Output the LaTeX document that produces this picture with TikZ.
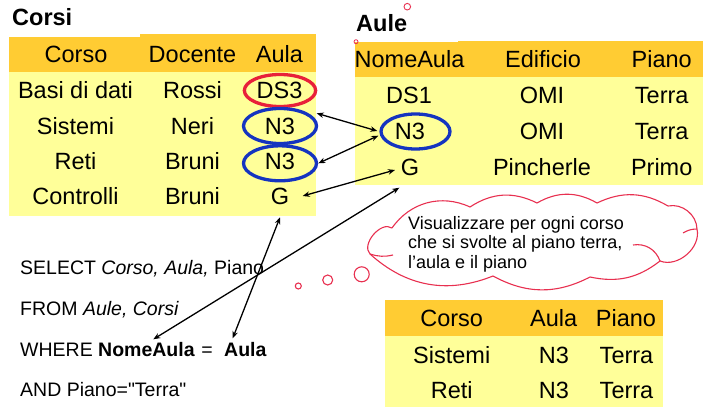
\documentclass[tikz,border=0pt]{standalone}
\usepackage{fontspec}
\setmainfont{Liberation Sans}
\usetikzlibrary{shapes.geometric,arrows.meta}
\definecolor{hdr}{HTML}{FFCC33}
\definecolor{bdy}{HTML}{FFFF99}
\definecolor{ovblue}{HTML}{1534C0}
\definecolor{ovred}{HTML}{E8203A}
\definecolor{cloudred}{HTML}{E83050}
\begin{document}
\begin{tikzpicture}[x=1pt,y=-1pt,
  cell/.style={inner sep=0pt, anchor=base, font=\fontsize{23.5}{28}\selectfont},
  ttl/.style={inner sep=0pt, anchor=base west, font=\fontsize{23.5}{28}\selectfont\bfseries},
  sql/.style={inner sep=0pt, anchor=base west, font=\fontsize{19.5}{23}\selectfont},
  sqlb/.style={inner sep=0pt, anchor=base west, font=\fontsize{19.5}{23}\selectfont\bfseries},
  ring/.style={ellipse, draw, line width=3.3pt, inner sep=0pt},
  link/.style={line width=1.3pt, {Stealth[length=7pt,width=5.5pt]}-{Stealth[length=7pt,width=5.5pt]}},
  bubble/.style={circle, draw=cloudred, line width=1.1pt, inner sep=0pt},
  cloudline/.style={draw=cloudred, line width=1.1pt},
]
\useasboundingbox[fill=white] (0,0) rectangle (719,411);

% Corsi table
\fill[bdy] (9,71.7) rectangle (315.7,215.7);
\fill[hdr] (9,36.7) rectangle (140,71.7);
\fill[hdr] (140,34.3) rectangle (315.7,71.7);
% Aule table
\fill[bdy] (355,76.7) rectangle (702.7,185);
\fill[hdr] (355,42.3) rectangle (458,76.7);
\fill[hdr] (458,41) rectangle (702.7,76.7);
% Result table
\fill[bdy] (385,335.7) rectangle (662.7,407);
\fill[hdr] (385,300) rectangle (662.7,335.7);

% ovals
\node[ring, draw=ovred, minimum width=71.3pt, minimum height=32pt] (e1) at (280,90.5) {};
\node[ring, draw=ovblue, minimum width=73pt, minimum height=35pt] (e2) at (280,126) {};
\node[ring, draw=ovblue, minimum width=73pt, minimum height=35pt] (e3) at (280,163.3) {};
\node[ring, draw=ovblue, minimum width=69pt, minimum height=35pt] (e4) at (415.5,131.5) {};

% titles
\node[ttl] (tc) at (12,26) {Corsi};
\node[ttl] (ta) at (356,31.7) {Aule};

% Corsi cells
\node[cell] (ch1) at (76,63) {Corso};
\node[cell] (ch2) at (192.5,63) {Docente};
\node[cell] (ch3) at (279.5,63) {Aula};
\node[cell] (cC1) at (75.5,98.3) {Basi di dati};
\node[cell] (cD1) at (192.5,98.3) {Rossi};
\node[cell] (cA1) at (279.5,98.3) {DS3};
\node[cell] (cC2) at (75.5,135) {Sistemi};
\node[cell] (cD2) at (192.5,135) {Neri};
\node[cell] (cA2) at (280,135) {N3};
\node[cell] (cC3) at (75.5,170) {Reti};
\node[cell] (cD3) at (192.5,170) {Bruni};
\node[cell] (cA3) at (280,170) {N3};
\node[cell] (cC4) at (75.5,205) {Controlli};
\node[cell] (cD4) at (192.5,205) {Bruni};
\node[cell] (cA4) at (280,205) {G};

% Aule cells
\node[cell] (ah1) at (409.5,68) {NomeAula};
\node[cell] (ah2) at (543,68) {Edificio};
\node[cell] (ah3) at (661.7,68) {Piano};
\node[cell] (aN1) at (409,104) {DS1};
\node[cell] (aE1) at (542,104) {OMI};
\node[cell] (aP1) at (661.7,104) {Terra};
\node[cell] (aN2) at (410,140) {N3};
\node[cell] (aE2) at (542,140) {OMI};
\node[cell] (aP2) at (661.7,140) {Terra};
\node[cell] (aN3) at (410,176) {G};
\node[cell] (aE3) at (542,176) {Pincherle};
\node[cell] (aP3) at (661.7,176) {Primo};

% Result cells
\node[cell] (rh1) at (451.7,326.7) {Corso};
\node[cell] (rh2) at (553.7,326.7) {Aula};
\node[cell] (rh3) at (626,326.7) {Piano};
\node[cell] (rC1) at (451.7,363.3) {Sistemi};
\node[cell] (rA1) at (554,363.3) {N3};
\node[cell] (rP1) at (626.5,363.3) {Terra};
\node[cell] (rC2) at (451.7,398.3) {Reti};
\node[cell] (rA2) at (554,398.3) {N3};
\node[cell] (rP2) at (626.5,398.3) {Terra};

% cloud (drawn directly)
\coordinate (P1) at (392,228);
\coordinate (P2) at (470,207);
\coordinate (P3) at (537,203);
\coordinate (P4) at (597,203);
\coordinate (P5) at (668,206);
\coordinate (P6) at (697,229);
\coordinate (P7) at (660,261);
\coordinate (P8) at (590,277);
\coordinate (P9) at (493,276);
\coordinate (P10) at (370,254);
\coordinate (K1) at (633,245);
\coordinate (K2) at (393,255);
\coordinate (K3) at (683,233);
\draw[cloudline] (P1) to[bend left=40] (P2) to[bend left=30] (P3) to[bend left=30] (P4)
  to[bend left=28] (P5) to[bend left=50] (P6) to[bend left=62] (P7) to[bend left=25] (P8)
  to[bend left=28] (P9) to[bend left=32] (P10) to[bend left=84] (P1);
\draw[cloudline] (P7) to[bend right=40] (K1);
\draw[cloudline] (P10) to[bend right=15] (K2);
\draw[cloudline] (P6) to[bend right=15] (K3);
\node[inner sep=0pt, anchor=north west, align=left, font=\fontsize{18}{19.5}\selectfont] (ct) at (408,216.2)
  {Visualizzare per ogni corso\\che si svolte al piano terra,\\l’aula e il piano};
\node[bubble, minimum size=6pt] (b1) at (298.3,286) {};
\node[bubble, minimum size=10pt] (b2) at (327.7,280) {};
\node[bubble, minimum size=15pt] (b3) at (361.7,274.3) {};
\node[bubble, minimum size=6.6pt, line width=0.9pt] (m1) at (407.3,6.7) {};
\node[bubble, minimum size=4pt, line width=0.8pt] (m2) at (356,41.7) {};

% SQL
\node[sql] (s1) at (20,275) {SELECT \textit{Corso, Aula,} Piano};
\node[sql] (s2) at (20,315) {FROM \textit{Aule, Corsi}};
\node[sql] (s3) at (20,356.7) {WHERE};
\node[sqlb] (s3a) at (98,356.7) {NomeAula};
\node[sql, anchor=base] (s3b) at (207,356.7) {=};
\node[sqlb] (s3c) at (224,356.7) {Aula};
\node[sql] (s4) at (20,396.7) {AND Piano=\textquotedbl Terra\textquotedbl};

% connectors
\draw[link] ([shift={(36.7,-21.7)}]cA2.base) -- ([shift={(-32.7,-9)}]aN2.base);
\draw[link] ([shift={(38.3,-6.7)}]cA3.base) -- ([shift={(-31.7,-4.3)}]aN2.base);
\draw[link] ([shift={(22.7,-9)}]cA4.base) -- ([shift={(-15,-6)}]aN3.base);
\draw[link] ([shift={(-10.7,11.7)}]aN3.base) -- ([shift={(55.3,-17.4)}]s3a.base west);
\draw[link] ([shift={(0,12.3)}]cA4.base) -- ([shift={(8.7,-18.4)}]s3c.base west);
\end{tikzpicture}
\end{document}
